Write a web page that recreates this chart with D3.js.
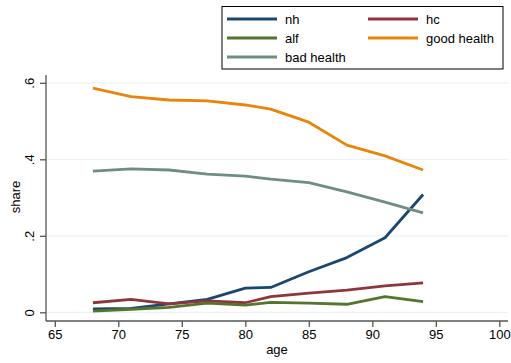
<!DOCTYPE html>
<html>
<head>
<meta charset="utf-8">
<script src="https://cdn.jsdelivr.net/npm/d3@7"></script>
<style>
  html, body { margin: 0; padding: 0; background: #fff; }
  svg { display: block; font-family: "Liberation Sans", Arial, sans-serif; }
</style>
</head>
<body>
<svg id="chart" width="511" height="363"></svg>
<script>
// Share of each care / health state by age
const ages = [68, 71, 74, 77, 80, 82, 85, 88, 91, 94];
const nh = [0.009, 0.010, 0.022, 0.034, 0.063, 0.065, 0.106, 0.143, 0.195, 0.308];
const hc = [0.025, 0.034, 0.022, 0.030, 0.025, 0.041, 0.050, 0.058, 0.069, 0.077];
const alf = [0.003, 0.008, 0.013, 0.024, 0.019, 0.026, 0.024, 0.021, 0.041, 0.028];
const goodHealth = [0.586, 0.564, 0.555, 0.553, 0.542, 0.531, 0.497, 0.437, 0.409, 0.372];
const badHealth = [0.369, 0.375, 0.372, 0.361, 0.356, 0.348, 0.339, 0.315, 0.288, 0.260];

const xTicks = [65, 70, 75, 80, 85, 90, 95, 100];
const yTicks = [0, 0.2, 0.4, 0.6];
const yTickLabels = ["0", ".2", ".4", ".6"];

const series = [
  { name: "nh", values: nh, color: "#1a476f" },
  { name: "hc", values: hc, color: "#90353b" },
  { name: "alf", values: alf, color: "#55752f" },
  { name: "good health", values: goodHealth, color: "#e8850a" },
  { name: "bad health", values: badHealth, color: "#6e8e84" }
];

const svg = d3.select("#chart");

const x = d3.scaleLinear().domain([65, 100]).range([54.8, 499.3]);
const y = d3.scaleLinear().domain([0, 0.6]).range([312.3, 82.8]);

const axisX0 = 46, axisY0 = 321, plotRight = 508, plotTop = 75;

// gridlines
svg.append("g")
  .selectAll("line")
  .data(yTicks)
  .join("line")
  .attr("x1", axisX0).attr("x2", plotRight)
  .attr("y1", d => y(d)).attr("y2", d => y(d))
  .attr("stroke", "#eaf2f3").attr("stroke-width", 1.2);

// x axis
const gx = svg.append("g").attr("transform", `translate(0,${axisY0})`)
  .call(d3.axisBottom(x).tickValues(xTicks).tickSize(6).tickPadding(3).tickFormat(d3.format("d")));
gx.select(".domain").attr("d", `M${axisX0},0H${plotRight}`);
gx.selectAll("line, path").attr("stroke", "#555").attr("stroke-width", 1.3);
gx.selectAll("text").attr("font-size", 13).attr("fill", "#000")
  .attr("font-family", "Liberation Sans, Arial, sans-serif");

// y axis
const gy = svg.append("g").attr("transform", `translate(${axisX0},0)`)
  .call(d3.axisLeft(y).tickValues(yTicks).tickSize(6).tickFormat((d, i) => yTickLabels[i]));
gy.select(".domain").attr("d", `M0,${plotTop}V${axisY0}`);
gy.selectAll("line, path").attr("stroke", "#555").attr("stroke-width", 1.3);
gy.selectAll("text")
  .attr("font-size", 13).attr("fill", "#000")
  .attr("font-family", "Liberation Sans, Arial, sans-serif")
  .attr("x", 0).attr("dy", null)
  .attr("text-anchor", "middle")
  .attr("transform", "translate(-12,0) rotate(-90)")
  .attr("y", 0);

// axis titles
svg.append("text").attr("x", 277).attr("y", 353.5).attr("text-anchor", "middle")
  .attr("font-size", 13).text("age");
svg.append("text").attr("transform", "translate(19.5,197) rotate(-90)")
  .attr("text-anchor", "middle").attr("font-size", 13).text("share");

// lines
const line = d3.line().x((d, i) => x(ages[i])).y(d => y(d));
svg.append("g")
  .selectAll("path")
  .data(series)
  .join("path")
  .attr("d", d => line(d.values))
  .attr("fill", "none")
  .attr("stroke", d => d.color)
  .attr("stroke-width", 2.8)
  .attr("stroke-linejoin", "round");

// legend
const legend = svg.append("g");
legend.append("rect").attr("x", 222).attr("y", 6.5).attr("width", 281).attr("height", 62.5)
  .attr("fill", "#fff").attr("stroke", "#000").attr("stroke-width", 1);
const cols = [227, 368];
const rows = [19, 38, 57];
series.forEach((s, i) => {
  const cx = cols[i % 2], cy = rows[Math.floor(i / 2)];
  legend.append("line").attr("x1", cx).attr("x2", cx + 50).attr("y1", cy).attr("y2", cy)
    .attr("stroke", s.color).attr("stroke-width", 2.8);
  legend.append("text").attr("x", cx + 58).attr("y", cy).attr("dy", "0.35em")
    .attr("font-size", 13).text(s.name);
});
</script>
</body>
</html>
